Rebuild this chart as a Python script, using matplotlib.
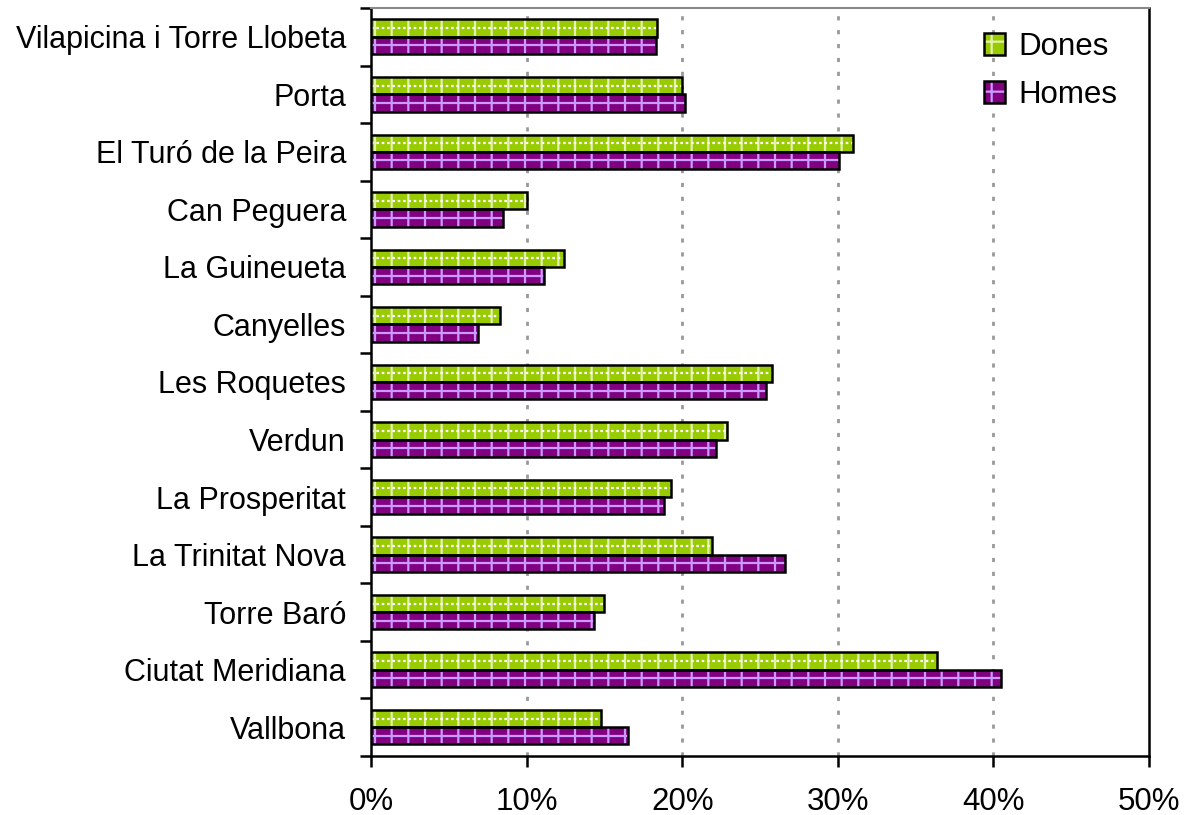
import matplotlib.pyplot as plt
from matplotlib.patches import Patch
from matplotlib.ticker import FixedLocator, PercentFormatter
import numpy as np

# Barris del districte de Nou Barris, de dalt a baix
barris = ["Vilapicina i Torre Llobeta", "Porta", "El Turó de la Peira",
          "Can Peguera", "La Guineueta", "Canyelles", "Les Roquetes",
          "Verdun", "La Prosperitat", "La Trinitat Nova", "Torre Baró",
          "Ciutat Meridiana", "Vallbona"]
dones = [18.4, 20.0, 31.0, 10.0, 12.4, 8.3, 25.8, 22.9, 19.3, 21.9, 15.0, 36.4, 14.8]
homes = [18.3, 20.2, 30.1, 8.5, 11.1, 6.9, 25.4, 22.2, 18.8, 26.6, 14.3, 40.5, 16.5]
xticks = [0, 10, 20, 30, 40, 50]

green = "#99cc00"
purple = "#800080"
green_line = "#e4f2b0"
purple_line = "#cc99ff"

plt.rcParams["font.family"] = ["Liberation Sans", "DejaVu Sans"]
plt.rcParams["hatch.linewidth"] = 1.6

fig = plt.figure(figsize=(11.85, 8.15), dpi=100)
ax = fig.add_axes([0.3131, 0.0724, 0.6565, 0.9178])

y = np.arange(len(barris))
h = 0.3

# fill + vertical hatch first (hatch takes edge colour)
ax.barh(y - h / 2, dones, height=h, color=green, edgecolor=green_line,
        hatch="|", linewidth=0, zorder=3)
ax.barh(y + h / 2, homes, height=h, color=purple, edgecolor=purple_line,
        hatch="|", linewidth=0, zorder=3)
# horizontal line through the middle of each bar
ax.hlines(y - h / 2, 0, dones, color="white", linewidth=1.6,
          linestyle=(0, (1.2, 1.2)), zorder=3.5)
ax.hlines(y + h / 2, 0, homes, color=purple_line, linewidth=1.6, zorder=3.5)
# black outline on top
ax.barh(y - h / 2, dones, height=h, fill=False, edgecolor="black",
        linewidth=1.8, zorder=4)
ax.barh(y + h / 2, homes, height=h, fill=False, edgecolor="black",
        linewidth=1.8, zorder=4)

ax.set_xlim(0, 50)
ax.set_ylim(len(barris) - 0.5, -0.5)

ax.set_xticks(xticks)
ax.xaxis.set_major_formatter(PercentFormatter(decimals=0))
ax.tick_params(axis="x", direction="out", length=8, width=1.8,
               labelsize=22.5, pad=14)

ax.set_yticks(y)
ax.set_yticklabels(barris)
ax.yaxis.set_minor_locator(FixedLocator(np.arange(len(barris) + 1) - 0.5))
ax.tick_params(axis="y", which="major", length=0, labelsize=22, pad=18)
ax.tick_params(axis="y", which="minor", direction="out", length=8, width=1.8)

for v in xticks[1:-1]:
    ax.axvline(v, color="#999999", linewidth=2, linestyle=(0, (1.5, 3.5)),
               zorder=1)

for side in ["left", "bottom", "right"]:
    ax.spines[side].set_linewidth(1.8)
    ax.spines[side].set_color("black")
ax.spines["top"].set_color("#888888")
ax.spines["top"].set_linewidth(1.5)

h_d = (Patch(facecolor=green, edgecolor=green_line, hatch="+", linewidth=0),
       Patch(fill=False, edgecolor="black", linewidth=1.8))
h_h = (Patch(facecolor=purple, edgecolor=purple_line, hatch="+", linewidth=0),
       Patch(fill=False, edgecolor="black", linewidth=1.8))
ax.legend([h_d, h_h], ["Dones", "Homes"], loc="upper right",
          bbox_to_anchor=(0.995, 1.005), frameon=False, fontsize=22.5,
          handlelength=0.7, handleheight=0.7, handletextpad=0.4,
          labelspacing=0.55)

fig.savefig("out.png", dpi=100)
